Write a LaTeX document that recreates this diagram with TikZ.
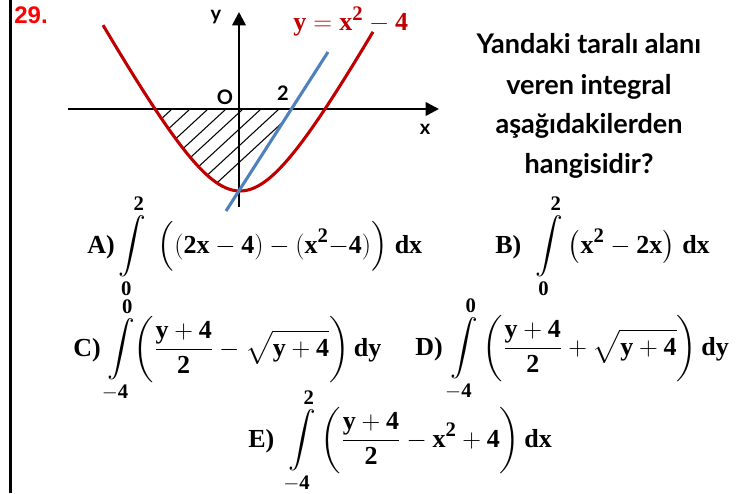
\documentclass[tikz,border=0pt]{standalone}
\usepackage{fix-cm}
\usepackage{amsmath}
\usepackage{fontspec}
\setmainfont{Liberation Serif}
\newfontfamily\gothic{Lato}
\newfontfamily\arialfont{Liberation Sans}
\usetikzlibrary{arrows.meta}
\usepackage{xcolor}
\definecolor{CurveRed}{HTML}{C00000}
\definecolor{ChordBlue}{HTML}{4F81BD}
\definecolor{NumberRed}{HTML}{FF0000}
\DeclareMathSizes{19.5}{19.5}{15.5}{12.5}
\newcommand{\tb}[1]{\text{\bfseries #1}}

\begin{document}
\begin{tikzpicture}[x=0.75pt, y=-0.75pt,
    axis/.style={line width=1.9pt, -{Triangle[length=10pt, width=10pt]}},
    parab/.style={draw=CurveRed, line width=2.3pt},
    chord/.style={draw=ChordBlue, line width=2.3pt},
    hatch/.style={line width=0.8pt},
    lbl/.style={font=\gothic\bfseries\fontsize{15}{17}\selectfont, inner sep=0pt},
    quest/.style={font=\gothic\bfseries\fontsize{20.3}{23}\selectfont, anchor=base, inner sep=0pt},
    choice/.style={font=\fontsize{19.5}{23}\selectfont, anchor=base west, inner sep=0pt}
  ]
  \useasboundingbox (0,0) rectangle (743,493);
  \draw[line width=2.4pt] (10.5,0) -- (10.5,493);
  \node[font=\arialfont\bfseries\fontsize{18}{20}\selectfont, text=NumberRed, inner sep=0pt] (num) at (31,15) {29.};

  % taralı bölge
  \begin{scope}
    \clip plot[domain=-90:90, samples=60] ({240+\x},{191-106*(sqrt(1+(\x/58)^2)-1)});
    \clip (140,109) -- (291.4,109) -- (226,211) -- (140,211) -- cycle;
    \draw[hatch] (172,109) -- ++(-130,120);
    \draw[hatch] (190,109) -- ++(-130,120);
    \draw[hatch] (208,109) -- ++(-130,120);
    \draw[hatch] (226,109) -- ++(-130,120);
    \draw[hatch] (243,109) -- ++(-130,120);
    \draw[hatch] (261,109) -- ++(-130,120);
    \draw[hatch] (279,109) -- ++(-130,120);
    \draw[hatch] (297,109) -- ++(-130,120);
  \end{scope}

  \draw[axis] (68,109) -- (439,109);
  \draw[axis] (239,207) -- (239,12);
  \draw[parab] plot[domain=-137:133, samples=80] ({240+\x},{191-106*(sqrt(1+(\x/58)^2)-1)});
  \coordinate (lo) at (226,211);
  \coordinate (hi) at (328,52);
  \draw[chord] (lo) -- (hi);

  \node[lbl] (ylab) at (216,17) {y};
  \node[lbl] (xlab) at (425,129) {x};
  \node[lbl] (origin) at (225,97) {O};
  \node[lbl] (two) at (283,93) {2};
  \node[anchor=base west, inner sep=0pt, text=CurveRed, font=\fontsize{19.5}{24}\selectfont] (eqn) at (293,30) {$\tb{y}=\tb{x}^{\tb{2}}-\tb{4}$};

  \node[quest] (q1) at (589,53) {Yandaki taralı alanı};
  \node[quest] (q2) at (589,94) {veren integral};
  \node[quest] (q3) at (589,133) {aşağıdakilerden};
  \node[quest] (q4) at (589,173) {hangisidir?};

  \node[choice] (optA) at (87,253) {\textbf{A)}\hspace{3pt}$\displaystyle\int\limits_{\tb{0}}^{\tb{2}}\;\Big((\tb{2x}-\tb{4})-(\tb{x}^{\tb{2}}{-}\tb{4})\Big)\;\tb{dx}$};
  \node[choice] (optB) at (495,253) {\textbf{B)}\hspace{11pt}$\displaystyle\int\limits_{\tb{0}}^{\tb{2}}\big(\tb{x}^{\tb{2}}-\tb{2x}\big)\;\tb{dx}$};
  \node[choice] (optC) at (73,356) {\textbf{C)}\hspace{5pt}$\displaystyle\int\limits_{-\tb{4}}^{\tb{0}}\mkern-4mu\left(\frac{\tb{y}+\tb{4}}{\tb{2}}-\sqrt{\tb{y}+\tb{4}}\right)\tb{dy}$};
  \node[choice] (optD) at (415,355) {\textbf{D)}\hspace{6pt}$\displaystyle\int\limits_{-\tb{4}}^{\tb{0}}\left(\frac{\tb{y}+\tb{4}}{\tb{2}}+\sqrt{\tb{y}+\tb{4}}\right)\tb{dy}$};
  \node[choice] (optE) at (248,447) {\textbf{E)}\hspace{11pt}$\displaystyle\int\limits_{-\tb{4}}^{\tb{2}}\left(\frac{\tb{y}+\tb{4}}{\tb{2}}-\tb{x}^{\tb{2}}+\tb{4}\right)\tb{dx}$};
\end{tikzpicture}
\end{document}
